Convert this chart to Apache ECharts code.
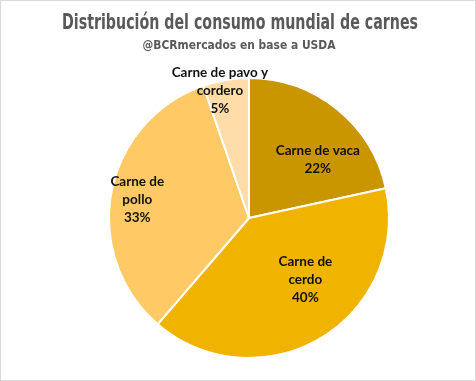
<!DOCTYPE html>
<html><head><meta charset="utf-8">
<script src="https://cdn.jsdelivr.net/npm/echarts@6/dist/echarts.min.js"></script>
<style>html,body{margin:0;padding:0;background:#fff}#c{width:476px;height:381px;box-sizing:border-box;border:1px solid #d9d9d9}</style>
</head><body><div id="c"></div>
<script>
const titleText = 'Distribución del consumo mundial de carnes';
const subtitleText = '@BCRmercados en base a USDA';
const categories = ['Carne de vaca', 'Carne de\ncerdo', 'Carne de\npollo', 'Carne de pavo y\ncordero'];
const values = [21.6, 39.7, 33.4, 5.3];
const colors = ['#C99600', '#F0B400', '#FFC966', '#FFDCA8'];
const labelShift = [[23, -2], [19, -1], [-40, -5], [-17, -55]];

function fitScale(text, font, target) {
  const ctx = document.createElement('canvas').getContext('2d');
  ctx.font = font;
  return target / ctx.measureText(text).width;
}
const titleFont = 'bold 21px "DejaVu Sans"';
const subFont = 'bold 13px "DejaVu Sans"';

const chart = echarts.init(document.getElementById('c'));
chart.setOption({
  animation: false,
  graphic: [{
    type: 'text', x: 239, y: 23, scaleX: fitScale(titleText, titleFont, 356),
    style: {text: titleText, font: titleFont, fill: '#595959', align: 'center', verticalAlign: 'middle'}
  }, {
    type: 'text', x: 238, y: 45, scaleX: fitScale(subtitleText, subFont, 193),
    style: {text: subtitleText, font: subFont, fill: '#595959', align: 'center', verticalAlign: 'middle'}
  }],
  series: [{
    type: 'pie',
    center: [248, 217],
    radius: [0, 140],
    startAngle: 90,
    clockwise: true,
    data: categories.map((n, i) => ({name: n, value: values[i], itemStyle: {color: colors[i]}})),
    itemStyle: {borderColor: '#fff', borderWidth: 2},
    label: {
      position: 'inside',
      formatter: p => p.name + '\n' + Math.round(p.percent) + '%',
      fontFamily: 'Lato', fontWeight: 'bold', fontSize: 13.5, color: '#111',
      lineHeight: 18, align: 'center'
    },
    labelLine: {show: false},
    labelLayout: p => ({dx: labelShift[p.dataIndex][0], dy: labelShift[p.dataIndex][1]})
  }]
});
</script></body></html>
